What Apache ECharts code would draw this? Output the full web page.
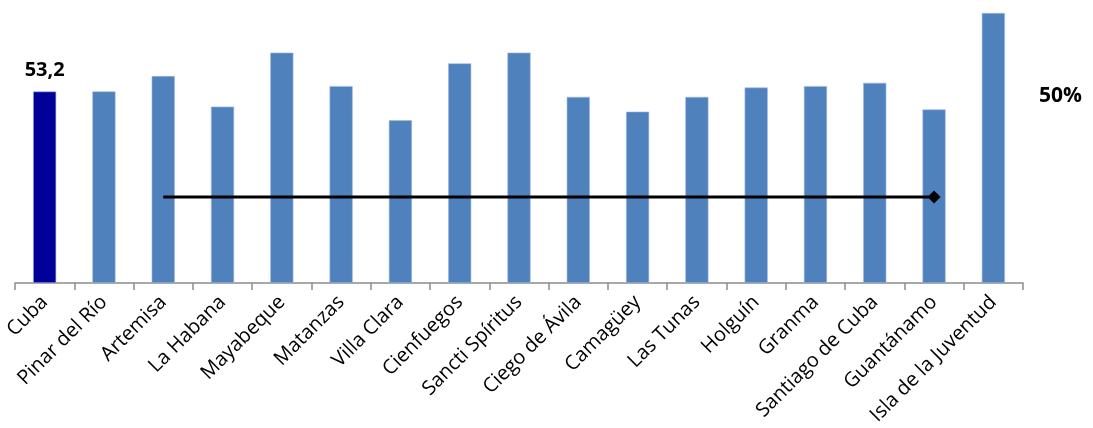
<!DOCTYPE html>
<html>
<head>
<meta charset="utf-8">
<script src="https://cdn.jsdelivr.net/npm/echarts@6/dist/echarts.min.js"></script>
<style>
html,body{margin:0;padding:0;background:#fff;}
#chart{width:1093px;height:428px;}
</style>
</head>
<body>
<div id="chart"></div>
<script>
const categories = ["Cuba","Pinar del Río","Artemisa","La Habana","Mayabeque","Matanzas","Villa Clara","Cienfuegos","Sancti Spíritus","Ciego de Ávila","Camagüey","Las Tunas","Holguín","Granma","Santiago de Cuba","Guantánamo","Isla de la Juventud"];
const values = [53.2, 53.2, 57.5, 49.0, 64.0, 54.7, 45.2, 61.0, 64.0, 51.7, 47.6, 51.7, 54.3, 54.7, 55.6, 48.2, 75.0];
const referenceLine = [null, null, 50, 50, 50, 50, 50, 50, 50, 50, 50, 50, 50, 50, 50, 50, null];
const referenceLabel = "50%";

const chart = echarts.init(document.getElementById('chart'));
const barData = values.map((v, i) => i === 0
  ? { value: v, itemStyle: { color: '#000099' },
      label: { show: true, position: 'top', distance: 11, formatter: () => String(v).replace('.', ','),
               fontFamily: 'Open Sans', fontWeight: 'bold', fontSize: 20, color: '#000' } }
  : { value: v });
const lastIdx = referenceLine.reduce((a, v, i) => v !== null ? i : a, -1);
const lineData = referenceLine.map((v, i) => v === null ? null
  : (i === lastIdx ? { value: v, symbol: 'diamond', symbolSize: 13 } : { value: v, symbol: 'none' }));

chart.setOption({
  animation: false,
  grid: { left: 15, right: 70, top: 13, bottom: 145, containLabel: false },
  xAxis: {
    type: 'category', data: categories,
    axisLine: { lineStyle: { color: '#8c8c8c', width: 1.5 } },
    axisTick: { show: true, length: 7, lineStyle: { color: '#8c8c8c', width: 1.5 } },
    axisLabel: { rotate: 45, interval: 0, margin: 16, fontFamily: 'Open Sans', fontSize: 20, color: '#000' }
  },
  yAxis: [
    { type: 'value', min: 0, max: 75, show: false, splitLine: { show: false } },
    { type: 'value', min: 0, max: 157, show: false, splitLine: { show: false } }
  ],
  graphic: [{
    type: 'text', left: 1039, top: 86,
    style: { text: referenceLabel, fontFamily: 'Open Sans', fontWeight: 'bold', fontSize: 21, fill: '#000' }
  }],
  series: [
    { type: 'bar', data: barData, barWidth: '39%',
      itemStyle: { color: '#4F81BD', borderColor: '#9fbbe0', borderWidth: 0.6 } },
    { type: 'line', yAxisIndex: 1, data: lineData, connectNulls: false,
      lineStyle: { color: '#000', width: 3 }, itemStyle: { color: '#000' }, z: 5 }
  ]
});
</script>
</body>
</html>
